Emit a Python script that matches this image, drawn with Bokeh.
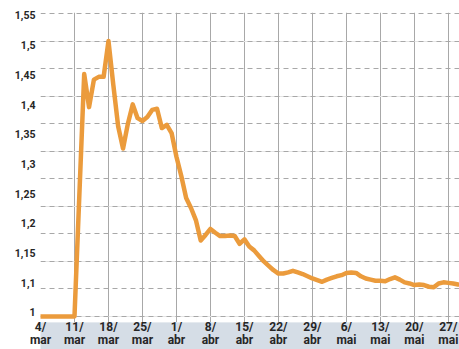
import pandas as pd
from bokeh.plotting import figure
from bokeh.models import (Range1d, LinearAxis, FixedTicker, Grid, BoxAnnotation,
                          ColumnDataSource)
from bokeh.embed import file_html
from bokeh.resources import INLINE

# ---- data ----
start_date = "2020-03-04"
values = [
    # March 4 - 31
    1.0, 1.0, 1.0, 1.0, 1.0, 1.0, 1.0, 1.0,
    1.22, 1.44, 1.38, 1.43, 1.435, 1.435, 1.50, 1.42, 1.345, 1.305,
    1.35, 1.385, 1.36, 1.355, 1.362, 1.375, 1.377, 1.342, 1.348, 1.333,
    # April 1 - 30
    1.29, 1.255, 1.215, 1.197, 1.175, 1.138, 1.148, 1.159, 1.152, 1.146,
    1.146, 1.147, 1.146, 1.132, 1.14, 1.127, 1.12, 1.11, 1.10, 1.092,
    1.084, 1.078, 1.078, 1.08, 1.083, 1.08, 1.077, 1.073, 1.069, 1.066,
    # May 1 - 29
    1.063, 1.067, 1.07, 1.073, 1.075, 1.079, 1.08, 1.079, 1.073, 1.069,
    1.067, 1.065, 1.065, 1.064, 1.068, 1.071, 1.067, 1.062, 1.06, 1.057,
    1.058, 1.057, 1.054, 1.053, 1.06, 1.062, 1.061, 1.06, 1.058,
]
tick_labels = ["4/\nmar", "11/\nmar", "18/\nmar", "25/\nmar", "1/\nabr", "8/\nabr",
               "15/\nabr", "22/\nabr", "29/\nabr", "6/\nmai", "13/\nmai", "20/\nmai",
               "27/\nmai"]
y_labels = ["1", "1,1", "1,15", "1,2", "1,25", "1,3", "1,35", "1,4", "1,45", "1,5", "1,55"]
grid_levels = [1.0, 1.05, 1.1, 1.15, 1.2, 1.25, 1.3, 1.35, 1.4, 1.45, 1.5, 1.55]

dates = pd.date_range(start_date, periods=len(values), freq="D")
days = [(d - dates[0]).days for d in dates]
week_ticks = [7 * i for i in range(len(tick_labels))]

src = ColumnDataSource(dict(x=days, y=values))

FONT = "Roboto"

p = figure(width=459, height=349, output_backend="svg", toolbar_location=None,
           x_range=Range1d(0, 86.3), y_range=Range1d(0.9891, 1.5518),
           y_axis_location=None, min_border_left=40, min_border_right=0,
           min_border_top=12, min_border_bottom=0)
p.outline_line_color = None
p.background_fill_color = "white"
p.border_fill_color = "white"

# label axis (labels are evenly spaced in the original, independent of gridlines)
p.extra_y_ranges = {"lbl": Range1d(-0.337, 10.101)}
yax = LinearAxis(y_range_name="lbl", ticker=FixedTicker(ticks=list(range(len(y_labels)))))
yax.major_label_overrides = {i: t for i, t in enumerate(y_labels)}
yax.axis_line_color = None
yax.major_tick_line_color = None
yax.minor_tick_line_color = None
yax.major_tick_out = 0
yax.minor_tick_out = 0
yax.major_label_standoff = 5
yax.major_label_text_font = FONT
yax.major_label_text_font_style = "bold"
yax.major_label_text_font_size = "10.5px"
yax.major_label_text_color = "#262626"
p.add_layout(yax, "left")

# x axis
xax = p.xaxis[0]
xax.ticker = FixedTicker(ticks=week_ticks)
xax.major_label_overrides = {t: l for t, l in zip(week_ticks, tick_labels)}
xax.axis_line_color = None
xax.major_tick_line_color = None
xax.minor_tick_line_color = None
xax.major_tick_out = 0
xax.major_tick_in = 0
xax.minor_tick_out = 0
xax.minor_tick_in = 0
xax.major_label_standoff = -3
xax.major_label_text_font = FONT
xax.major_label_text_font_style = "bold"
xax.major_label_text_font_size = "12px"
xax.major_label_text_line_height = 0.95
xax.major_label_text_color = "#262626"
xax.background_fill_color = "#d5dde6"

# grids
p.xgrid.grid_line_color = "#a8a8a8"
p.xgrid.grid_line_width = 1
hgrid = Grid(dimension=1, ticker=FixedTicker(ticks=grid_levels),
             grid_line_color="#a8a8a8", grid_line_dash="5 4", grid_line_width=1)
p.add_layout(hgrid)

# band under the y labels
band = BoxAnnotation(left=10, right=459, top=322, bottom=349,
                     left_units="canvas", right_units="canvas",
                     top_units="canvas", bottom_units="canvas",
                     fill_color="#d5dde6", fill_alpha=1, line_color=None,
                     level="underlay")
p.add_layout(band)

p.line("x", "y", source=src, line_color="#eb9b3c", line_width=4.5,
       line_join="round", line_cap="round")

open("out.html", "w").write(file_html(p, INLINE))
